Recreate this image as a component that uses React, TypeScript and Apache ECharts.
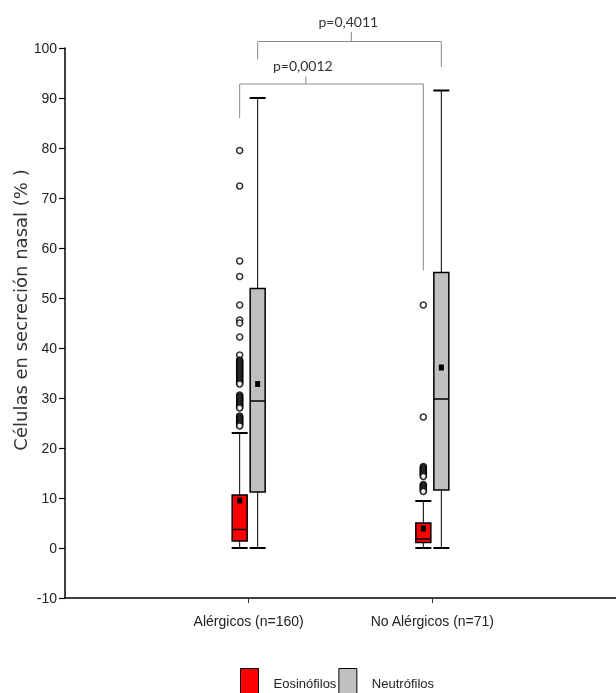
import React, { useEffect, useRef } from 'react';
import * as echarts from 'echarts';

const categories = ['Alérgicos (n=160)', 'No Alérgicos (n=71)'];
const seriesNames = ['Eosinófilos', 'Neutrófilos'];
const yAxisTitle = 'Células en secreción nasal (% )';
const yMin = -10;
const yMax = 100;
const yInterval = 10;

// [min, Q1, median, Q3, max] per category
const eosinofilosBox = [
  [0, 1.4, 3.7, 10.6, 23.0],
  [0, 1.1, 1.8, 5.0, 9.4],
];
const eosinofilosMean = [9.5, 3.9];
const neutrofilosBox = [
  [0, 11.2, 29.4, 51.9, 90.0],
  [0, 11.6, 29.8, 55.1, 91.5],
];
const neutrofilosMean = [32.8, 36.1];

const eosOutliersAlergicos = [
  79.5, 72.4, 57.4, 54.3, 48.6, 45.6, 45.0, 42.2, 38.6,
  37.6, 37.4, 37.2, 37.0, 36.8, 36.6, 36.4, 36.2, 36.0, 35.8, 35.6, 35.4, 35.2,
  35.0, 34.8, 34.6, 34.4, 34.2, 34.0, 33.8, 33.6, 33.4, 33.2, 33.0, 32.8,
  30.6, 30.4, 30.2, 30.0, 29.8, 29.6, 29.4, 29.2, 29.0, 28.8, 28.6, 28.4, 28.2, 28.0,
  26.4, 26.2, 26.0, 25.8, 25.6, 25.4, 25.2, 25.0, 24.8, 24.6, 24.4,
];
const eosOutliersNoAlergicos = [
  48.6, 26.2,
  16.3, 16.1, 15.9, 15.7, 15.5, 15.3, 15.1, 14.9, 14.7, 14.5, 14.3,
  12.7, 12.5, 12.3, 12.1, 11.9, 11.7, 11.5, 11.3,
];

const pLabels = ['p=0,0012', 'p=0,4011'];
const bracketLevel = [92.8, 101.3];
const bracketLeftEnd = [86.0, 97.7];
const bracketRightEnd = [55.5, 96.2];
const bracketTickTop = [94.3, 103.2];
const bracketTickFrac = [0.36, 0.51];

const RED = '#ff0000';
const GREY = '#c0c0c0';
const EOS_OFF = -9;
const NEU_OFF = 9;
const SANS = '"Liberation Sans", Arial, sans-serif';

const makeBoxRender = (offset: number, fill: string) => (params: any, api: any) => {
  const cat = api.value(0);
  const v = [1, 2, 3, 4, 5, 6].map((i) => api.value(i));
  const p = (val: number) => api.coord([cat, val]);
  const x = p(v[0])[0] + offset;
  const yMinP = p(v[0])[1];
  const yQ1 = p(v[1])[1];
  const yMed = p(v[2])[1];
  const yQ3 = p(v[3])[1];
  const yMaxP = p(v[4])[1];
  const yMean = p(v[5])[1];
  const hw = 7.5;
  const cw = 8;
  const thin = { stroke: '#000', lineWidth: 1 };
  const thick = { stroke: '#000', lineWidth: 2 };
  return {
    type: 'group',
    children: [
      { type: 'line', shape: { x1: x, y1: yQ3, x2: x, y2: yMaxP }, style: thin },
      { type: 'line', shape: { x1: x, y1: yMinP, x2: x, y2: yQ1 }, style: thin },
      { type: 'line', shape: { x1: x - cw, y1: yMaxP, x2: x + cw, y2: yMaxP }, style: thick },
      { type: 'line', shape: { x1: x - cw, y1: yMinP, x2: x + cw, y2: yMinP }, style: thick },
      {
        type: 'rect',
        shape: { x: x - hw, y: yQ3, width: hw * 2, height: yQ1 - yQ3 },
        style: { fill, stroke: '#000', lineWidth: 1.5 },
      },
      { type: 'line', shape: { x1: x - hw, y1: yMed, x2: x + hw, y2: yMed }, style: { stroke: '#000', lineWidth: 1.5 } },
      { type: 'rect', shape: { x: x - 2.5, y: yMean - 3, width: 5, height: 6 }, style: { fill: '#000' } },
    ],
  };
};

export default function App() {
  const ref = useRef<HTMLDivElement>(null);
  useEffect(() => {
    if (!ref.current) return;
    const chart = echarts.init(ref.current, undefined, { renderer: 'svg' });
    const axisCats = ['', ...categories, ''];
    const eosData = categories.map((c, i) => [c, ...eosinofilosBox[i], eosinofilosMean[i]]);
    const neuData = categories.map((c, i) => [c, ...neutrofilosBox[i], neutrofilosMean[i]]);
    const outliers = [
      ...eosOutliersAlergicos.map((v) => [categories[0], v]),
      ...eosOutliersNoAlergicos.map((v) => [categories[1], v]),
    ];
    chart.setOption({
      animation: false,
      grid: { left: 65, right: 0, top: 48, bottom: 95 },
      xAxis: {
        type: 'category',
        data: axisCats,
        boundaryGap: false,
        axisLine: { onZero: false, lineStyle: { color: '#000', width: 1.5 } },
        axisTick: {
          length: 5,
          interval: (idx: number) => idx === 1 || idx === 2,
          lineStyle: { color: '#333', width: 1 },
        },
        axisLabel: {
          interval: (idx: number) => idx === 1 || idx === 2,
          color: '#222',
          fontFamily: SANS,
          fontSize: 14,
          margin: 16,
        },
        splitLine: { show: false },
      },
      yAxis: {
        type: 'value',
        min: yMin,
        max: yMax,
        interval: yInterval,
        axisLine: { show: true, lineStyle: { color: '#000', width: 1.5 } },
        axisTick: { show: true, length: 6, lineStyle: { color: '#000', width: 1.2 } },
        axisLabel: { color: '#222', fontFamily: SANS, fontSize: 14, margin: 8 },
        splitLine: { show: false },
      },
      legend: {
        left: 235,
        top: 663,
        itemWidth: 18,
        itemHeight: 30,
        itemGap: 2,
        icon: 'rect',
        selectedMode: false,
        textStyle: { fontFamily: SANS, fontSize: 13, color: '#222', padding: [0, 0, 0, 10] },
        data: [
          { name: seriesNames[0], itemStyle: { color: RED, borderColor: '#000', borderWidth: 1 } },
          { name: seriesNames[1], itemStyle: { color: GREY, borderColor: '#000', borderWidth: 1 } },
        ],
      },
      series: [
        {
          name: seriesNames[0],
          type: 'custom',
          itemStyle: { color: RED },
          renderItem: makeBoxRender(EOS_OFF, RED),
          encode: { x: 0, y: [1, 2, 3, 4, 5, 6] },
          data: eosData,
          z: 3,
        },
        {
          name: seriesNames[1],
          type: 'custom',
          itemStyle: { color: GREY },
          renderItem: makeBoxRender(NEU_OFF, GREY),
          encode: { x: 0, y: [1, 2, 3, 4, 5, 6] },
          data: neuData,
          z: 3,
        },
        {
          name: 'outliers',
          type: 'scatter',
          symbol: 'circle',
          symbolSize: 6,
          symbolOffset: [EOS_OFF, 0],
          itemStyle: { color: '#fff', borderColor: '#000', borderWidth: 1.6 },
          data: outliers,
          z: 4,
        },
      ],
    });

    const toPx = (ci: number, v: number) =>
      chart.convertToPixel({ xAxisIndex: 0, yAxisIndex: 0 }, [categories[ci], v]) as number[];
    const graphics: any[] = [];
    pLabels.forEach((label, i) => {
      const off = i === 0 ? EOS_OFF : NEU_OFF;
      const xL = toPx(0, bracketLevel[i])[0] + off;
      const xR = toPx(1, bracketLevel[i])[0] + off;
      const yH = toPx(0, bracketLevel[i])[1];
      const yLe = toPx(0, bracketLeftEnd[i])[1];
      const yRe = toPx(0, bracketRightEnd[i])[1];
      const yT = toPx(0, bracketTickTop[i])[1];
      const tx = xL + (xR - xL) * bracketTickFrac[i];
      graphics.push({
        type: 'polyline',
        shape: { points: [[xL, yLe], [xL, yH], [xR, yH], [xR, yRe]] },
        style: { stroke: '#8a8a8a', lineWidth: 1, fill: 'none' },
      });
      graphics.push({
        type: 'line',
        shape: { x1: tx, y1: yH, x2: tx, y2: yT },
        style: { stroke: '#8a8a8a', lineWidth: 1 },
      });
      graphics.push({
        type: 'text',
        x: tx - 3,
        y: yT - 11,
        style: {
          text: label,
          fontFamily: 'Lato, "Open Sans", sans-serif',
          fontSize: 14,
          fill: '#333',
          align: 'center',
          verticalAlign: 'middle',
        },
      });
    });
    graphics.push({
      type: 'text',
      x: 20,
      y: 310,
      rotation: Math.PI / 2,
      style: {
        text: yAxisTitle,
        fontFamily: '"DejaVu Sans", sans-serif',
        fontSize: 18,
        fill: '#333',
        align: 'center',
        verticalAlign: 'middle',
      },
    });
    chart.setOption({ graphic: graphics });
    return () => chart.dispose();
  }, []);
  return <div ref={ref} style={{ position: 'fixed', left: 0, top: 0, width: 616, height: 693 }} />;
}
